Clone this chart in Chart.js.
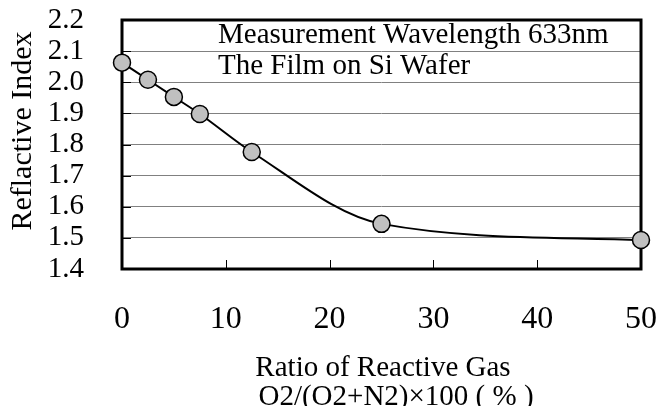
<!DOCTYPE html>
<html>
<head>
<meta charset="utf-8">
<script src="https://cdn.jsdelivr.net/npm/chart.js@4"></script>
<style>
  html, body { margin: 0; padding: 0; background: #fff; }
  #wrap { width: 660px; height: 406px; }
</style>
</head>
<body>
<div id="wrap"><canvas id="chart" width="660" height="406"></canvas></div>
<script>
const gasRatio = [0, 2.5, 5, 7.5, 12.5, 25, 50];
const refIndex = [2.063, 2.008, 1.953, 1.898, 1.776, 1.545, 1.493];
const xTicks = [0, 10, 20, 30, 40, 50];
const yTicks = [1.4, 1.5, 1.6, 1.7, 1.8, 1.9, 2.0, 2.1, 2.2];
const noteLines = ['Measurement Wavelength 633nm', 'The Film on Si Wafer'];
const xTitle = ['Ratio of Reactive Gas', 'O2/(O2+N2)\u00d7100 ( % )'];
const yTitle = 'Reflactive Index';

const FONT = '"Liberation Serif", "Times New Roman", serif';

// frame, inner tick marks and the texts
const decor = {
    id: 'decor',
    beforeDatasetsDraw(chart) {
        const { ctx, chartArea: a, scales } = chart;
        ctx.save();
        // inner ticks
        ctx.strokeStyle = '#000';
        ctx.lineWidth = 1;
        ctx.beginPath();
        xTicks.forEach(v => {
            const px = Math.round(scales.x.getPixelForValue(v)) + 0.5;
            ctx.moveTo(px, a.bottom);
            ctx.lineTo(px, a.bottom - 9);
        });
        yTicks.forEach(v => {
            const py = Math.round(scales.y.getPixelForValue(v)) + 0.5;
            ctx.moveTo(a.left, py);
            ctx.lineTo(a.left + 9, py);
        });
        ctx.stroke();
        // plot frame
        ctx.lineWidth = 3;
        ctx.strokeRect(a.left, a.top, a.right - a.left, a.bottom - a.top);

        // note in the plot
        ctx.fillStyle = '#000';
        ctx.font = '29px ' + FONT;
        ctx.textAlign = 'left';
        ctx.textBaseline = 'alphabetic';
        ctx.fillText(noteLines[0], 218, 43);
        ctx.fillText(noteLines[1], 218, 74);

        // axis titles
        ctx.textAlign = 'center';
        ctx.font = '29px ' + FONT;
        ctx.fillText(xTitle[0], 383, 376);
        ctx.fillText(xTitle[1], 396, 405);

        ctx.save();
        ctx.translate(31, 131);
        ctx.rotate(-Math.PI / 2);
        ctx.font = '30px ' + FONT;
        ctx.fillText(yTitle, 0, 0);
        ctx.restore();
        ctx.restore();
    }
};

new Chart(document.getElementById('chart'), {
    type: 'line',
    data: {
        datasets: [{
            data: gasRatio.map((x, i) => ({ x, y: refIndex[i] })),
            borderColor: '#000',
            borderWidth: 2,
            cubicInterpolationMode: 'monotone',
            pointRadius: 8.5,
            pointHoverRadius: 8.5,
            pointBackgroundColor: '#c0c0c0',
            pointBorderColor: '#000',
            pointBorderWidth: 1.5,
            clip: false
        }]
    },
    options: {
        responsive: false,
        animation: false,
        devicePixelRatio: 1,
        layout: { padding: { top: 20, right: 19, left: 0, bottom: 0 } },
        plugins: { legend: { display: false }, tooltip: { enabled: false } },
        scales: {
            x: {
                type: 'linear',
                min: 0,
                max: 50,
                afterBuildTicks: s => { s.ticks = xTicks.map(v => ({ value: v })); },
                afterFit: s => { s.height = 137; s.paddingLeft = 0; s.paddingRight = 0; },
                grid: { display: false, drawTicks: false },
                border: { display: false },
                ticks: {
                    color: '#000',
                    padding: 31,
                    maxRotation: 0,
                    autoSkip: false,
                    font: { family: FONT, size: 32 }
                }
            },
            y: {
                min: 1.4,
                max: 2.2,
                afterBuildTicks: s => { s.ticks = yTicks.map(v => ({ value: v })); },
                afterFit: s => { s.width = 122; s.paddingTop = 0; s.paddingBottom = 0; },
                grid: { color: '#808080', lineWidth: 1, drawTicks: false },
                border: { display: false },
                ticks: {
                    color: '#000',
                    padding: 38,
                    autoSkip: false,
                    font: { family: FONT, size: 29 },
                    callback: v => v.toFixed(1)
                }
            }
        }
    },
    plugins: [decor]
});
</script>
</body>
</html>
